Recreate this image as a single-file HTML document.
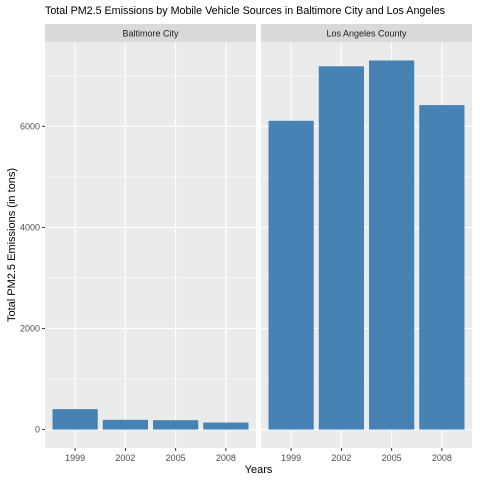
<!DOCTYPE html>
<html><head><meta charset="utf-8"><style>
body{margin:0;background:#fff;}
svg text{font-family:"Liberation Sans",Arial,sans-serif;}
</style></head><body>
<svg id="chart" width="480" height="480" xmlns="http://www.w3.org/2000/svg"></svg>
<script>
const years = ["1999","2002","2005","2008"];
const facets = ["Baltimore City","Los Angeles County"];
const baltimoreValues = [403.77,192.01,185.41,138.24];
const laValues = [6109.69,7188.68,7304.11,6421.02];
const yTicks = [0,2000,4000,6000];

const svgEl = document.getElementById('chart');
const NS = "http://www.w3.org/2000/svg";
function mk(tag, attrs, parent){const e=document.createElementNS(NS,tag);for(const k in attrs)e.setAttribute(k,attrs[k]);(parent||svgEl).appendChild(e);return e;}

const allVals = baltimoreValues.concat(laValues);
const maxV = Math.max(...allVals);
const lo = -0.05*maxV, hi = maxV*1.05;
const plotTop = 42, plotBottom = 448;
function yS(v){return plotBottom - (v-lo)/(hi-lo)*(plotBottom-plotTop);}
const panels = [{x0:45,x1:256,vals:baltimoreValues},{x0:261,x1:472,vals:laValues}];

const title = mk('text',{x:45,y:14,'font-size':10.8,fill:'#000',textLength:400,lengthAdjust:'spacingAndGlyphs'});
title.textContent = "Total PM2.5 Emissions by Mobile Vehicle Sources in Baltimore City and Los Angeles";



panels.forEach((p,pi)=>{
  const w = p.x1-p.x0;
  const unit = w/(years.length-1+1.2);
  function xS(i){return p.x0 + (0.6+i)*unit;}
  const g = mk('g',{});
  
  
  mk('rect',{x:p.x0,y:plotTop,width:w,height:plotBottom-plotTop,fill:'#EBEBEB'},g);
  for(let i=0;i<yTicks.length;i++){
    const mv = yTicks[i]+1000;
    if(mv<hi) mk('line',{x1:p.x0,x2:p.x1,y1:yS(mv),y2:yS(mv),stroke:'#fff','stroke-width':0.55},g);
  }
  yTicks.forEach(t=>mk('line',{x1:p.x0,x2:p.x1,y1:yS(t),y2:yS(t),stroke:'#fff','stroke-width':1.1},g));
  years.forEach((yr,i)=>mk('line',{x1:xS(i),x2:xS(i),y1:plotTop,y2:plotBottom,stroke:'#fff','stroke-width':1.1},g));
  p.vals.forEach((v,i)=>{
    const r = mk('rect',{x:xS(i)-0.45*unit,y:yS(v),width:0.9*unit,height:yS(0)-yS(v),fill:'#4682B4'},g);
    
    
  });
  const s = mk('rect',{x:p.x0,y:24,width:w,height:18,fill:'#D9D9D9'},g);
  
  
  const st = mk('text',{x:(p.x0+p.x1)/2,y:36.5,'font-size':9,fill:'#1A1A1A','text-anchor':'middle'},g);
  st.textContent = facets[pi];
  years.forEach((yr,i)=>{
    mk('line',{x1:xS(i),x2:xS(i),y1:plotBottom,y2:plotBottom+3,stroke:'#333','stroke-width':1},g);
    const t = mk('text',{x:xS(i),y:plotBottom+13,'font-size':9,fill:'#4D4D4D','text-anchor':'middle'},g);
    t.textContent = yr;
    
    
  });
});
yTicks.forEach(t=>{
  mk('line',{x1:42,x2:45,y1:yS(t),y2:yS(t),stroke:'#333','stroke-width':1});
  const l = mk('text',{x:40,y:yS(t)+3,'font-size':9,fill:'#4D4D4D','text-anchor':'end'});
  l.textContent = t;
  
  
});
const xt = mk('text',{x:258.5,y:473,'font-size':11,fill:'#000','text-anchor':'middle'});
xt.textContent = "Years";


const yt = mk('text',{x:0,y:0,'font-size':11,fill:'#000','text-anchor':'middle',transform:'translate(15,245) rotate(-90)'});
yt.textContent = "Total PM2.5 Emissions (in tons)";


</script>
</body></html>
